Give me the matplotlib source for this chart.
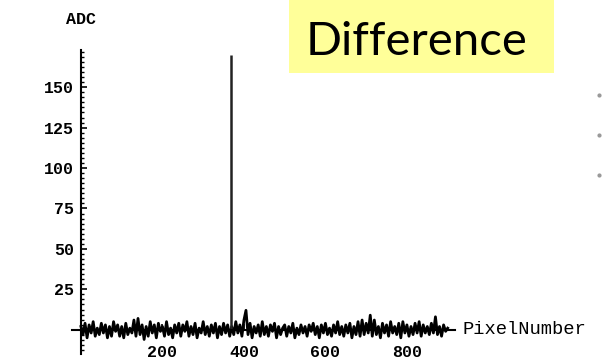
import matplotlib.pyplot as plt
import numpy as np
from matplotlib.patches import Rectangle
from matplotlib.lines import Line2D
from matplotlib.ticker import MultipleLocator

# pixel positions (step 5) and ADC difference values
pixel = np.arange(0, 905, 5)
adc = [
    2, -3, 4, -5, 3, -2, 5, -4, 1, -3,
    4, -2, 3, -5, 2, -4, 5, -1, 3, -4,
    2, -5, 4, -3, 1, -2, 6, -4, 7, -3,
    3, -6, 2, -4, 5, -2, 3, -5, 4, -1,
    2, -4, 5, -3, 1, -5, 3, -2, 4, -4,
    3, -1, 5, -4, 2, -3, 4, -5, 1, -2,
    5, -3, 2, -4, 3, -2, 4, -5, 2, -3,
    4, -2, 3, -4, 2, -3, 5, -2, 3, -4,
    6, 12, -3, 4, -5, 2, -2, 3, -4, 5,
    -3, 2, -4, 3, -1, 4, -5, 2, -3, 1,
    3, -4, 2, -2, 4, -5, 1, -3, 3, -2,
    2, -4, 3, -1, 4, -3, 2, -5, 3, -2,
    4, -3, 1, -4, 3, -2, 5, -3, 2, -4,
    3, -2, 4, -5, 2, -3, 5, -4, 6, -3,
    4, -2, 9, -4, 6, -3, 2, -5, 4, -2,
    3, -4, 5, -2, 2, -3, 4, -5, 5, -2,
    3, -4, 2, -3, 4, -2, 5, -4, 3, -2,
    2, -3, 4, -2, 8, -3, 2, -4, 3, -1,
    1,
]
# the single hot pixel
spike_pixel = 368
spike_adc = 170

x_ticks = [200, 400, 600, 800]
y_ticks = [25, 50, 75, 100, 125, 150]

W, H = 609, 361
fig = plt.figure(figsize=(W / 100, H / 100), dpi=100)
ax = fig.add_axes([72 / W, 1 - 354 / H, (455 - 72) / W, (354 - 50) / H])

ax.plot(pixel, adc, color='black', lw=2.0)
ax.vlines(spike_pixel, 0, spike_adc, color='#222222', lw=1.8)

ax.set_xlim(-22, 918)
ax.set_ylim(-15, 173)

# Mathematica-style axes crossing at the origin
for s in ['top', 'right']:
    ax.spines[s].set_visible(False)
ax.spines['left'].set_position(('data', 0))
ax.spines['bottom'].set_position(('data', 0))
ax.spines['left'].set_linewidth(1.5)
ax.spines['bottom'].set_linewidth(1.5)

mono = dict(family='Liberation Mono', weight='bold', size=12)

ax.set_xticks(x_ticks)
ax.set_xticklabels([str(v) for v in x_ticks], fontdict=mono)
ax.set_yticks(y_ticks)
ax.set_yticklabels([str(v) for v in y_ticks], fontdict=mono)
ax.yaxis.set_minor_locator(MultipleLocator(25 / 8))
ax.tick_params(axis='y', which='major', direction='in', length=4, width=1.2, pad=5)
ax.tick_params(axis='y', which='minor', direction='in', length=2.5, width=1)
ax.tick_params(axis='x', which='major', direction='in', length=4, width=1.2, pad=11)

fig.text(81 / W, 1 - 20 / H, 'ADC', ha='center', va='center', **mono)
fig.text(463 / W, 1 - 330 / H, 'PixelNumber', ha='left', va='center',
         family='Liberation Mono', size=13.5)

# yellow title box
fig.add_artist(Rectangle((289 / W, 1 - 73 / H), (554 - 289) / W, 73 / H,
                         transform=fig.transFigure, facecolor='#ffff99',
                         edgecolor='none'))
fig.text(417 / W, 1 - 55 / H, 'Difference', ha='center', va='baseline',
         family='Lato', size=34, color='black')

# faint scan marks at the right edge
for yy in [95, 135, 175]:
    fig.add_artist(Line2D([599 / W], [1 - yy / H], marker='o', markersize=2,
                          color='#999999', transform=fig.transFigure))

fig.savefig('out.png', dpi=100)
